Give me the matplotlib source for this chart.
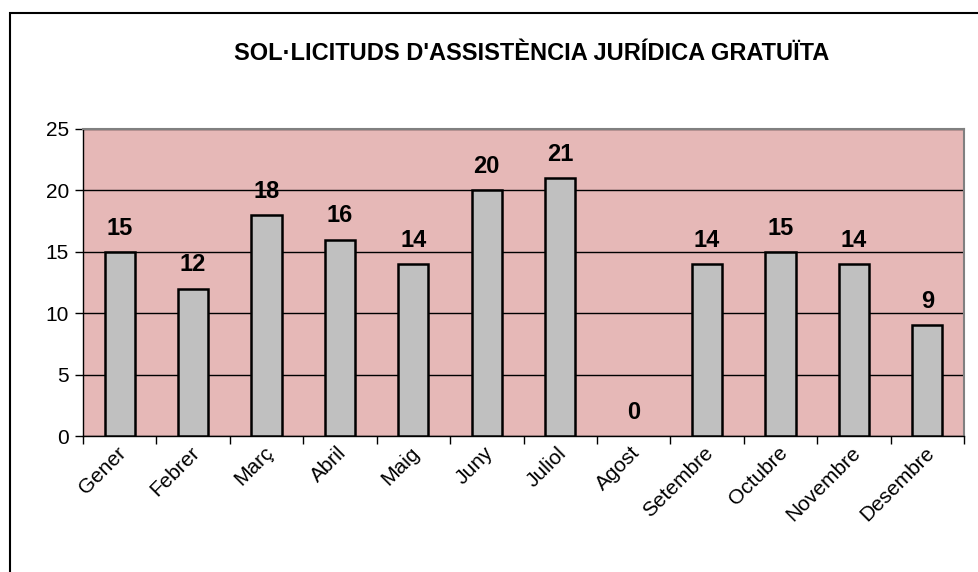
import matplotlib
matplotlib.use("Agg")
import matplotlib.pyplot as plt
from matplotlib.patches import Rectangle
import numpy as np

#sol.licituds per mes
months=["Gener","Febrer","Març","Abril","Maig","Juny","Juliol","Agost",
	"Setembre","Octubre","Novembre","Desembre"]
requests=[15,12,18,16,14,20,21,0,14,15,14,9]
yticks=[0,5,10,15,20,25]
title="SOL·LICITUDS D'ASSISTÈNCIA JURÍDICA GRATUÏTA"

plt.rcParams['font.family']=['Liberation Sans','DejaVu Sans']

W,H=979,572
fig=plt.figure(figsize=(W/100,H/100),dpi=100)
fig.patch.set_facecolor('white')

#outer frame (only left and top visible)
fig.add_artist(Rectangle((10/W,-0.1),1.2,(H-13)/H+0.1,transform=fig.transFigure,
	fill=False,edgecolor='black',linewidth=1.5))

ax=fig.add_axes([83/W,1-436/H,(964-83)/W,(436-129)/H])
ax.set_facecolor('#E6B8B7')
x=np.arange(len(months))
#no outline for empty months
lw=[1.8 if v>0 else 0 for v in requests]
ax.bar(x,requests,0.41,color='#C0C0C0',edgecolor='black',linewidth=lw,zorder=3)
for xi,v in zip(x,requests):
	ax.text(xi,v+1.0,str(v),ha='center',va='bottom',fontsize=17,fontweight='bold')

ax.set_xlim(-0.5,len(months)-0.5)
ax.set_ylim(0,25)
ax.set_yticks(yticks)
ax.yaxis.grid(True,color='black',linewidth=1)
ax.set_axisbelow(True)
ax.set_xticks(np.arange(len(months)+1)-0.5)
ax.set_xticklabels([])
ax.set_xticks(x+0.05,minor=True)
ax.set_xticklabels(months,minor=True,rotation=45,ha='right',va='center',
	rotation_mode='anchor',fontsize=15)
ax.tick_params(axis='x',which='minor',length=0,pad=10)
ax.tick_params(axis='x',which='major',length=6,width=1,direction='out')
ax.tick_params(axis='y',length=6,width=1,direction='out',labelsize=15,pad=4)
for s in ['top','right']:
	ax.spines[s].set_color('#808080')
	ax.spines[s].set_linewidth(1.5)
for s in ['left','bottom']:
	ax.spines[s].set_color('black')
	ax.spines[s].set_linewidth(1)

fig.text(532/W,1-54/H,title,ha='center',va='center',fontsize=17,fontweight='bold')

fig.savefig('out.png',dpi=100)
